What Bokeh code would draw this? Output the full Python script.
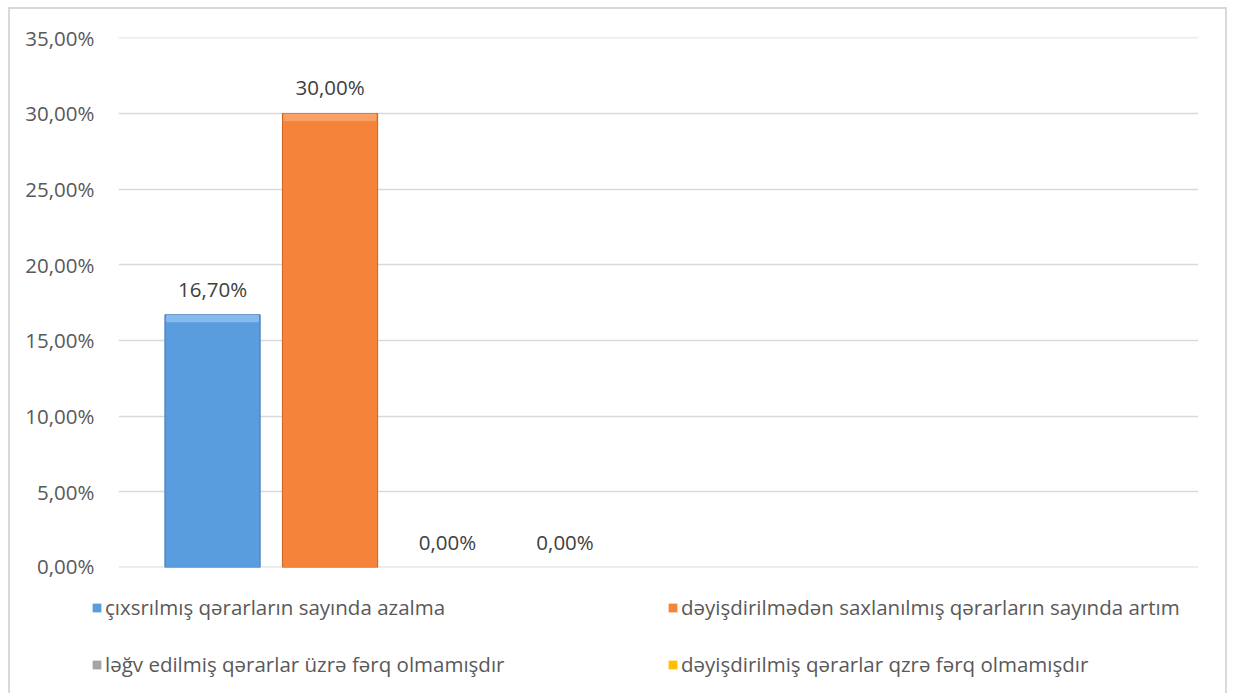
from bokeh.plotting import figure
from bokeh.models import (ColumnDataSource, Range1d, Legend, LegendItem,
                          CustomJSTickFormatter, FixedTicker)
from bokeh.core.properties import value
from bokeh.embed import file_html
from bokeh.resources import INLINE

series = ["çıxsrılmış qərarların sayında azalma",
          "dəyişdirilmədən saxlanılmış qərarların sayında artım",
          "ləğv edilmiş qərarlar üzrə fərq olmamışdır",
          "dəyişdirilmiş qərarlar qzrə fərq olmamışdır"]
values = [16.70, 30.00, 0.00, 0.00]
labels = ["16,70%", "30,00%", "0,00%", "0,00%"]
colors = ["#5a9ddf", "#f5843a", "#a5a5a5", "#ffc000"]
highlights = ["#8cc0f0", "#fba46c", "#c8c8c8", "#ffd54d"]
edges = ["#3f78b5", "#c9621f", "#8c8c8c", "#d9a300"]
y_ticks = [0, 5, 10, 15, 20, 25, 30, 35]

FONT = "Open Sans"
FS = "20.5px"
BORDER = "2px solid #d9d9d9"
BEVEL = 0.5  # depth of the lighter top bevel, in axis units

p = figure(width=1219, height=572, output_backend="svg", toolbar_location=None,
           x_range=Range1d(-0.8, 8.39), y_range=Range1d(0, 35.02),
           min_border_left=108, min_border_right=31, min_border_top=28,
           min_border_bottom=14)
p.styles = {"margin-left": "8px", "margin-top": "7px", "border-top": BORDER,
            "border-left": BORDER, "border-right": BORDER}
p.outline_line_color = None
p.xgrid.visible = False
p.ygrid.grid_line_color = "#d9d9d9"
p.ygrid.grid_line_width = 1.5

p.yaxis.ticker = FixedTicker(ticks=y_ticks)
p.yaxis.formatter = CustomJSTickFormatter(code="return tick.toFixed(2).replace('.', ',') + '%';")
p.yaxis.axis_line_color = None
p.yaxis.major_tick_line_color = None
p.yaxis.minor_tick_line_color = None
p.yaxis.major_label_text_font = FONT
p.yaxis.major_label_text_font_size = FS
p.yaxis.major_label_text_color = "#595959"
p.yaxis.major_label_standoff = 18

p.xaxis.visible = False
p.hspan(y=[0], line_color="#d9d9d9", line_width=2)

xs = list(range(len(series)))
for i in xs:
    if values[i] <= 0:
        continue
    src = ColumnDataSource(dict(x=[i], top=[values[i]]))
    p.vbar(x="x", top="top", width=0.81, source=src,
           fill_color=colors[i], line_color=edges[i], line_width=1)
    bsrc = ColumnDataSource(dict(x=[i], top=[values[i]], bottom=[values[i] - BEVEL]))
    p.vbar(x="x", top="top", bottom="bottom", width=0.79, source=bsrc,
           fill_color=highlights[i], fill_alpha=0.85, line_color=None)

lsrc = ColumnDataSource(dict(x=xs, y=values, t=labels))
p.text(x="x", y="y", text="t", source=lsrc, text_align="center",
       text_baseline="middle", y_offset=-26, text_font=value(FONT),
       text_font_size=FS, text_color="#404040")

# legend strip below the plot (separate root, so its frame is not aligned)
p2 = figure(width=1219, height=114, output_backend="svg", toolbar_location=None,
            x_range=Range1d(0, 1), y_range=Range1d(0, 1),
            x_axis_type=None, y_axis_type=None,
            min_border_left=0, min_border_right=0, min_border_top=0,
            min_border_bottom=0)
p2.styles = {"margin-left": "8px", "border-left": BORDER, "border-right": BORDER}
p2.outline_line_color = None
p2.grid.visible = False
items = []
for i in xs:
    # legend proxies, kept outside the visible range
    r = p2.vbar(x=[0.5], top=[-5], bottom=[-6], width=0.1,
                fill_color=colors[i], line_color=None)
    items.append(LegendItem(label=series[i], renderers=[r]))

for col, xoff in ((0, 81), (1, 657)):
    lg = Legend(items=[items[col], items[col + 2]], location=(xoff, 15),
                glyph_width=11, glyph_height=11, label_standoff=3,
                label_height=28, spacing=29, padding=0, margin=0,
                label_text_font=FONT, label_text_font_size=FS,
                label_text_color="#595959", border_line_color=None,
                background_fill_alpha=0)
    p2.add_layout(lg, "center")

open("out.html", "w").write(file_html([p, p2], INLINE))
